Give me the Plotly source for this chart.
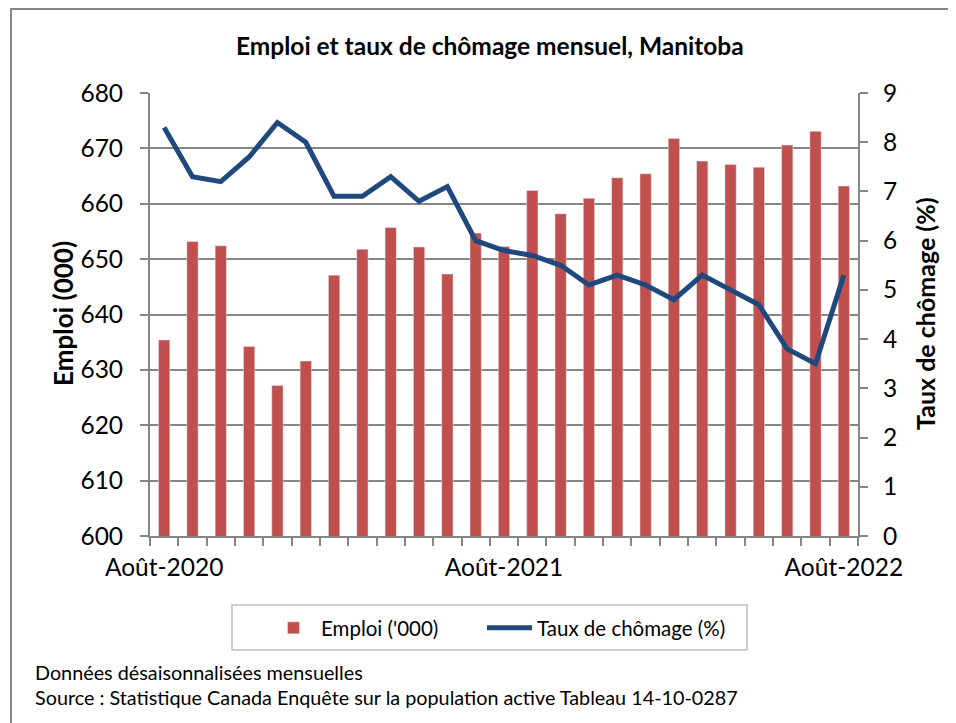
import plotly.graph_objects as go

months = ["Août-2020", "Sept-2020", "Oct-2020", "Nov-2020", "Déc-2020",
          "Janv-2021", "Févr-2021", "Mars-2021", "Avr-2021", "Mai-2021",
          "Juin-2021", "Juil-2021", "Août-2021", "Sept-2021", "Oct-2021",
          "Nov-2021", "Déc-2021", "Janv-2022", "Févr-2022", "Mars-2022",
          "Avr-2022", "Mai-2022", "Juin-2022", "Juil-2022", "Août-2022"]
emploi = [635.4, 653.2, 652.4, 634.2, 627.2, 631.6, 647.1, 651.8, 655.7, 652.2,
          647.3, 654.7, 652.3, 662.4, 658.2, 661.0, 664.7, 665.4, 671.8, 667.7,
          667.1, 666.6, 670.6, 673.1, 663.2]
chomage = [8.3, 7.3, 7.2, 7.7, 8.4, 8.0, 6.9, 6.9, 7.3, 6.8, 7.1, 6.0, 5.8,
           5.7, 5.5, 5.1, 5.3, 5.1, 4.8, 5.3, 5.0, 4.7, 3.8, 3.5, 5.3]
xtick_idx = [0, 12, 24]
left_ticks = [600, 610, 620, 630, 640, 650, 660, 670, 680]
right_ticks = [0, 1, 2, 3, 4, 5, 6, 7, 8, 9]

FONT = "Lato"
x = list(range(len(months)))

fig = go.Figure()
fig.add_trace(go.Bar(x=x, y=emploi, name="Emploi ('000)", marker_color="#C0504D",
                     width=0.4, legend="legend"))
fig.add_trace(go.Scatter(x=x, y=chomage, name="Taux de chômage (%)", yaxis="y2",
                         mode="lines", line=dict(color="#1F497D", width=5),
                         legend="legend2"))

# reference-pixel geometry of the plot area
L, T = 150, 93
W, H = 956, 723
pw, ph = 708, 443
OFF = 8  # page body margin
ml, mt = L - OFF, T - OFF
mr, mb = W - ml - pw, H - mt - ph

def px_x(p):
    return (p - L) / pw

def px_y(p):
    return (T + ph - p) / ph

GRID = "#868686"
leg_common = dict(orientation="h", xanchor="left", y=px_y(628), yanchor="middle",
                  borderwidth=0, bgcolor="rgba(0,0,0,0)",
                  font=dict(size=20.5, family=FONT), itemwidth=45)
fig.update_layout(
    width=W, height=H,
    margin=dict(l=ml, r=mr, t=mt, b=mb, autoexpand=False),
    paper_bgcolor="white", plot_bgcolor="white",
    font=dict(family=FONT, color="black"),
    showlegend=True,
    legend=dict(x=px_x(266), **leg_common),
    legend2=dict(x=px_x(482), **leg_common),
    xaxis=dict(range=[-0.5, len(months) - 0.5], tickmode="array",
               tickvals=xtick_idx, ticktext=[months[i] for i in xtick_idx],
               ticks="", showgrid=False, showline=True, linecolor=GRID, linewidth=2,
               tickfont=dict(size=24.5, family=FONT), ticklabelstandoff=9,
               minor=dict(ticks="outside", tick0=-0.5, dtick=1, ticklen=8,
                          tickcolor=GRID, tickwidth=1.5, showgrid=False)),
    yaxis=dict(range=[600, 680], tickmode="array", tickvals=left_ticks,
               showgrid=True, gridcolor=GRID, gridwidth=1.5,
               showline=True, linecolor=GRID, linewidth=2,
               ticks="outside", ticklen=8, tickcolor=GRID, tickwidth=1.5,
               ticklabelstandoff=12,
               tickfont=dict(size=24.5, family=FONT), zeroline=False),
    yaxis2=dict(range=[0, 9], tickmode="array", tickvals=right_ticks, overlaying="y",
                side="right", showgrid=False, showline=True, linecolor=GRID,
                linewidth=2, ticks="outside", ticklen=8, tickcolor=GRID,
                tickwidth=1.5, ticklabelstandoff=10,
                tickfont=dict(size=24.5, family=FONT), zeroline=False),
)

fig.add_annotation(text="<b>Emploi et taux de chômage mensuel, Manitoba</b>",
                   xref="paper", yref="paper", x=px_x(490), y=px_y(45),
                   showarrow=False, font=dict(size=24.5, family=FONT),
                   xanchor="center", yanchor="middle")
fig.add_annotation(text="<b>Emploi (000)</b>", xref="paper", yref="paper",
                   x=px_x(63), y=px_y(314), textangle=-90, showarrow=False,
                   font=dict(size=26, family=FONT), xanchor="center", yanchor="middle")
fig.add_annotation(text="<b>Taux de chômage (%)</b>", xref="paper", yref="paper",
                   x=px_x(925), y=px_y(314), textangle=-90, showarrow=False,
                   font=dict(size=25, family=FONT), xanchor="center", yanchor="middle")
fig.add_annotation(text="Données désaisonnalisées mensuelles", xref="paper", yref="paper",
                   x=px_x(33), y=px_y(672), showarrow=False, xanchor="left", yanchor="middle",
                   font=dict(size=19.8, family=FONT))
fig.add_annotation(text="Source : Statistique Canada Enquête sur la population active Tableau 14-10-0287",
                   xref="paper", yref="paper", x=px_x(33), y=px_y(697), showarrow=False,
                   xanchor="left", yanchor="middle", font=dict(size=19.8, family=FONT))
# outer chart frame
fig.add_shape(type="rect", xref="paper", yref="paper", x0=px_x(11), x1=px_x(1000),
              y0=px_y(800), y1=px_y(9), line=dict(color=GRID, width=2),
              fillcolor="rgba(0,0,0,0)", layer="below")
# legend frame
fig.add_shape(type="rect", xref="paper", yref="paper", x0=px_x(232), x1=px_x(747),
              y0=px_y(650), y1=px_y(605), line=dict(color="#BFBFBF", width=1.5),
              fillcolor="rgba(0,0,0,0)", layer="below")

fig.write_html("out.html")
